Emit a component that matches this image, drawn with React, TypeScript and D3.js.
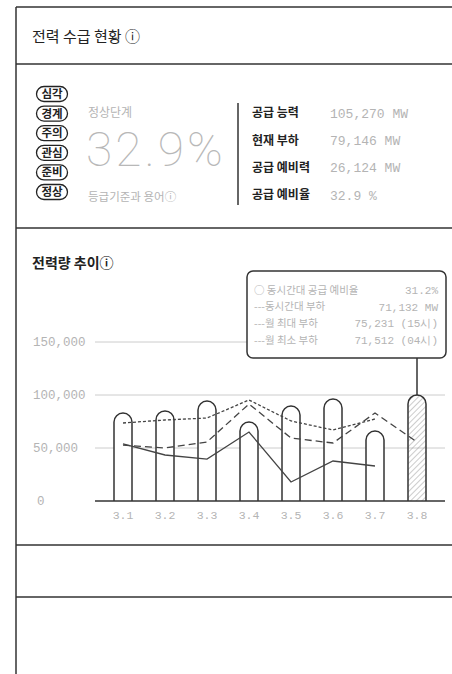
import React, { useEffect, useRef } from 'react';
import * as d3 from 'd3';

const days = ['3.1', '3.2', '3.3', '3.4', '3.5', '3.6', '3.7', '3.8'];
const supplyCapacity = [83000, 85000, 94300, 74500, 89600, 96200, 66000, 100000];
const sameHourLoad = [73600, 76400, 78300, 95300, 75500, 67000, 77400];
const monthMaxLoad = [52800, 50000, 55700, 91500, 59400, 54700, 83000, 55700];
const monthMinLoad = [53800, 43400, 39600, 65100, 17900, 37700, 33000];
const yTicks = [0, 50000, 100000, 150000];

const levels = ['심각', '경계', '주의', '관심', '준비', '정상'];
const statLabels = ['공급 능력', '현재 부하', '공급 예비력', '공급 예비율'];
const statValues = ['105,270 MW', '79,146 MW', '26,124 MW', '32.9 %'];
const tipLabels = ['○ 동시간대 공급 예비율', '---동시간대 부하', '---월 최대 부하', '---월 최소 부하'];
const tipValues = ['31.2%', '71,132 MW', '75,231 (15시)', '71,512 (04시)'];

const KR = '"Noto Sans CJK KR", "Noto Sans", sans-serif';
const NUM = '"Liberation Mono", monospace';
const INK = '#333';
const GRAY = '#b4b4b4';

export default function App() {
  const svgRef = useRef<SVGSVGElement>(null);

  useEffect(() => {
    if (!svgRef.current) return;
    const svg = d3.select(svgRef.current);
    svg.selectAll('*').remove();

    const defs = svg.append('defs');
    const pat = defs.append('pattern')
      .attr('id', 'hatch')
      .attr('patternUnits', 'userSpaceOnUse')
      .attr('width', 4)
      .attr('height', 4)
      .attr('patternTransform', 'rotate(45)');
    pat.append('line').attr('x1', 0).attr('y1', 0).attr('x2', 0).attr('y2', 4)
      .attr('stroke', '#999').attr('stroke-width', 1);

    svg.append('rect').attr('width', 452).attr('height', 674).attr('fill', '#fff');

    // frame
    svg.append('line').attr('x1', 16).attr('x2', 16).attr('y1', 7).attr('y2', 674)
      .attr('stroke', INK).attr('stroke-width', 1.5);
    [7, 64, 228, 545, 597].forEach(y => {
      svg.append('line').attr('x1', 16).attr('x2', 452).attr('y1', y).attr('y2', y)
        .attr('stroke', INK).attr('stroke-width', 1.5);
    });

    svg.append('text').attr('x', 32).attr('y', 42)
      .attr('font-family', KR).attr('font-size', 15).attr('fill', '#222')
      .text('전력 수급 현황 ⓘ');

    // level badges
    const by = d3.scaleLinear().domain([0, levels.length - 1]).range([94, 192]);
    levels.forEach((lv, i) => {
      const g = svg.append('g').attr('transform', `translate(52,${by(i)})`);
      g.append('rect').attr('x', -15.5).attr('y', -7.5).attr('width', 31).attr('height', 15)
        .attr('rx', 7.5).attr('fill', '#fff').attr('stroke', '#222').attr('stroke-width', 1.3);
      g.append('text').attr('text-anchor', 'middle').attr('dy', '0.35em')
        .attr('font-family', KR).attr('font-weight', 'bold').attr('font-size', 11.5).attr('fill', '#222')
        .text(lv);
    });

    svg.append('text').attr('x', 88).attr('y', 117)
      .attr('font-family', KR).attr('font-size', 12).attr('fill', GRAY).text('정상단계');
    svg.append('text').attr('x', 86).attr('y', 166)
      .attr('font-family', 'Roboto, "DejaVu Sans", sans-serif').attr('font-weight', 100)
      .attr('font-size', 48).attr('letter-spacing', 3).attr('fill', '#b8b8b8').text('32.9%');
    svg.append('text').attr('x', 88).attr('y', 201)
      .attr('font-family', KR).attr('font-size', 11.5).attr('fill', GRAY).text('등급기준과 용어ⓘ');

    // stats
    svg.append('line').attr('x1', 238).attr('x2', 238).attr('y1', 103).attr('y2', 205)
      .attr('stroke', INK).attr('stroke-width', 1.5);
    const sy = d3.scaleLinear().domain([0, 3]).range([113, 195]);
    statLabels.forEach((s, i) => {
      svg.append('text').attr('x', 252).attr('y', sy(i)).attr('dy', '0.35em')
        .attr('font-family', KR).attr('font-weight', 'bold').attr('font-size', 12).attr('fill', '#222')
        .text(s);
      svg.append('text').attr('x', 330).attr('y', sy(i)).attr('dy', '0.35em')
        .attr('font-family', NUM).attr('font-size', 13).attr('fill', GRAY)
        .text(statValues[i]);
    });

    // chart section
    svg.append('text').attr('x', 32).attr('y', 268)
      .attr('font-family', KR).attr('font-weight', 'bold').attr('font-size', 14).attr('fill', '#222')
      .text('전력량 추이ⓘ');

    const x = d3.scalePoint<string>().domain(days).range([123, 417]);
    const y = d3.scaleLinear().domain([0, 150000]).range([501, 342]);

    yTicks.forEach(t => {
      if (t > 0) {
        svg.append('line').attr('x1', 95).attr('x2', 445).attr('y1', y(t)).attr('y2', y(t))
          .attr('stroke', '#ccc').attr('stroke-width', 1);
      }
      svg.append('text').attr('x', t === 0 ? 37 : 33).attr('y', y(t)).attr('dy', '0.35em')
        .attr('font-family', NUM).attr('font-size', 12.5).attr('fill', GRAY)
        .text(t === 0 ? '0' : d3.format(',')(t));
    });

    const bw = 18;
    const r = bw / 2;
    days.forEach((d, i) => {
      const cx = x(d)!;
      const top = y(supplyCapacity[i]);
      const base = y(0);
      const path = `M${cx - r},${base} V${top + r} A${r},${r} 0 0 1 ${cx + r},${top + r} V${base}`;
      svg.append('path').attr('d', path)
        .attr('fill', i === days.length - 1 ? 'url(#hatch)' : '#fff')
        .attr('stroke', '#333').attr('stroke-width', 1.5);
    });

    svg.append('line').attr('x1', 95).attr('x2', 445).attr('y1', y(0)).attr('y2', y(0))
      .attr('stroke', '#333').attr('stroke-width', 1.5);

    const line = d3.line<number>().x((_, i) => x(days[i])!).y(v => y(v));
    svg.append('path').attr('d', line(sameHourLoad)!).attr('fill', 'none')
      .attr('stroke', '#444').attr('stroke-width', 1.3).attr('stroke-dasharray', '3,2');
    svg.append('path').attr('d', line(monthMaxLoad)!).attr('fill', 'none')
      .attr('stroke', '#444').attr('stroke-width', 1.3).attr('stroke-dasharray', '7,4');
    svg.append('path').attr('d', line(monthMinLoad)!).attr('fill', 'none')
      .attr('stroke', '#444').attr('stroke-width', 1.3);

    days.forEach(d => {
      svg.append('text').attr('x', x(d)!).attr('y', 515).attr('dy', '0.35em')
        .attr('text-anchor', 'middle')
        .attr('font-family', NUM).attr('font-size', 11.5).attr('fill', GRAY).text(d);
    });

    // tooltip
    const lastX = x(days[days.length - 1])!;
    svg.append('line').attr('x1', lastX).attr('x2', lastX)
      .attr('y1', 358).attr('y2', y(supplyCapacity[days.length - 1]))
      .attr('stroke', '#333').attr('stroke-width', 1.5);
    svg.append('rect').attr('x', 247).attr('y', 271).attr('width', 199).attr('height', 87)
      .attr('rx', 6).attr('fill', '#fff').attr('stroke', '#333').attr('stroke-width', 1.5);
    const ty = d3.scaleLinear().domain([0, 3]).range([290, 340]);
    tipLabels.forEach((s, i) => {
      svg.append('text').attr('x', 254).attr('y', ty(i)).attr('dy', '0.35em')
        .attr('font-family', KR).attr('font-size', 10.5).attr('fill', GRAY).text(s);
      svg.append('text').attr('x', 438).attr('y', ty(i)).attr('dy', '0.35em')
        .attr('text-anchor', 'end')
        .attr('font-family', NUM).attr('font-size', 11).attr('fill', GRAY).text(tipValues[i]);
    });
  }, []);

  return (
    <svg ref={svgRef} width={452} height={674}
      style={{ position: 'absolute', left: 0, top: 0, display: 'block' }} />
  );
}
